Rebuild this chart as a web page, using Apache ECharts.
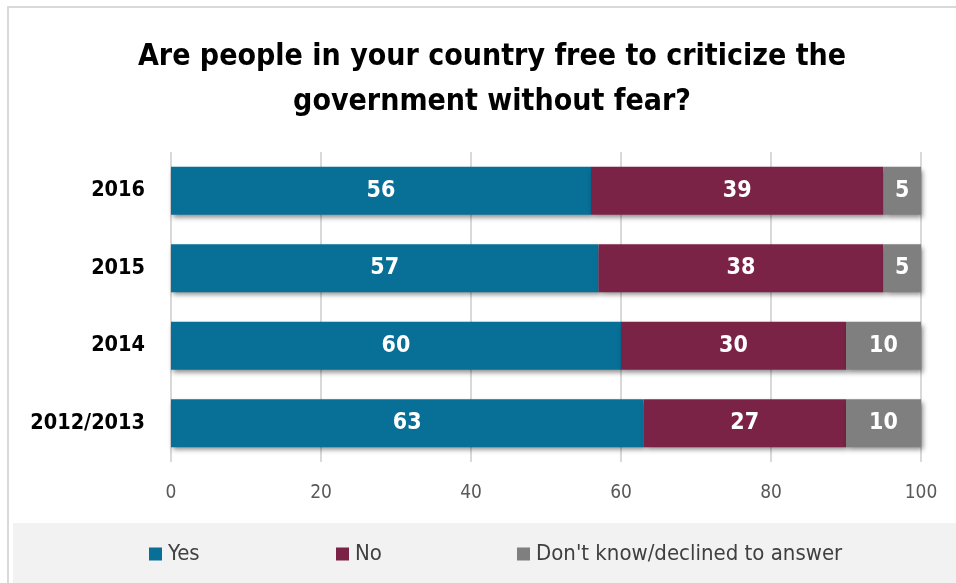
<!DOCTYPE html>
<html>
<head>
<meta charset="utf-8">
<script src="https://cdn.jsdelivr.net/npm/echarts@6/dist/echarts.min.js"></script>
<style>
  html, body { margin: 0; padding: 0; background: #ffffff; }
  #chart { width: 956px; height: 583px; }
</style>
</head>
<body>
<div id="chart"></div>
<script>
// Survey waves, top to bottom
const categories = ['2016', '2015', '2014', '2012/2013'];
// Share of respondents (%)
const yesValues = [56, 57, 60, 63];
const noValues = [39, 38, 30, 27];
const dkValues = [5, 5, 10, 10];
const seriesNames = ['Yes', 'No', "Don't know/declined to answer"];
const xTicks = [0, 20, 40, 60, 80, 100];

const FONT = '"Liberation Sans Narrow", "DejaVu Sans Condensed", "Liberation Sans", sans-serif';
const colors = ['#086f97', '#7b2347', '#7f7f7f'];

const chart = echarts.init(document.getElementById('chart'));

function barSeries(name, data, color) {
  return {
    name: name,
    type: 'bar',
    stack: 'total',
    data: data,
    barWidth: 48,
    itemStyle: {
      color: color,
      shadowColor: 'rgba(0,0,0,0.45)',
      shadowBlur: 5,
      shadowOffsetX: 2,
      shadowOffsetY: 3
    },
    label: {
      show: true,
      position: 'inside',
      color: '#ffffff',
      fontFamily: FONT,
      fontWeight: 'bold',
      fontSize: 23
    },
    emphasis: { disabled: true }
  };
}

const legendBase = {
  top: 543,
  padding: 0,
  itemWidth: 13,
  itemHeight: 13,
  icon: 'rect',
  selectedMode: false,
  textStyle: { fontFamily: FONT, fontSize: 22, color: '#404040', padding: [0, 0, 0, 1] }
};

chart.setOption({
  animation: false,
  graphic: [
    { type: 'rect', shape: { x: 8, y: 7, width: 960, height: 600 }, style: { fill: 'none', stroke: '#d9d9d9', lineWidth: 2 }, z: -10 },
    { type: 'rect', shape: { x: 13, y: 523, width: 945, height: 62 }, style: { fill: '#f2f2f2' }, z: -9 }
  ],
  title: {
    text: 'Are people in your country free to criticize the\ngovernment without fear?',
    left: 487,
    textAlign: 'center',
    top: 30,
    textStyle: { fontFamily: FONT, fontWeight: 'bold', fontSize: 30, lineHeight: 45, color: '#000000' }
  },
  legend: [
    Object.assign({}, legendBase, { left: 149, data: [seriesNames[0]] }),
    Object.assign({}, legendBase, { left: 336, data: [seriesNames[1]] }),
    Object.assign({}, legendBase, { left: 517, data: [seriesNames[2]] })
  ],
  grid: { left: 171, right: 35, top: 152, bottom: 121, containLabel: false },
  xAxis: {
    type: 'value',
    min: xTicks[0],
    max: xTicks[xTicks.length - 1],
    interval: xTicks[1] - xTicks[0],
    axisLine: { show: false },
    axisTick: { show: false },
    axisLabel: { color: '#595959', fontFamily: FONT, fontSize: 19, margin: 22 },
    splitLine: { show: true, lineStyle: { color: '#d9d9d9', width: 2 } }
  },
  yAxis: {
    type: 'category',
    data: categories,
    inverse: true,
    axisLine: { show: false },
    axisTick: { show: false },
    axisLabel: { color: '#000000', fontFamily: FONT, fontWeight: 'bold', fontSize: 21.5, margin: 26 }
  },
  series: [
    barSeries(seriesNames[0], yesValues, colors[0]),
    barSeries(seriesNames[1], noValues, colors[1]),
    barSeries(seriesNames[2], dkValues, colors[2])
  ]
});
</script>
</body>
</html>
